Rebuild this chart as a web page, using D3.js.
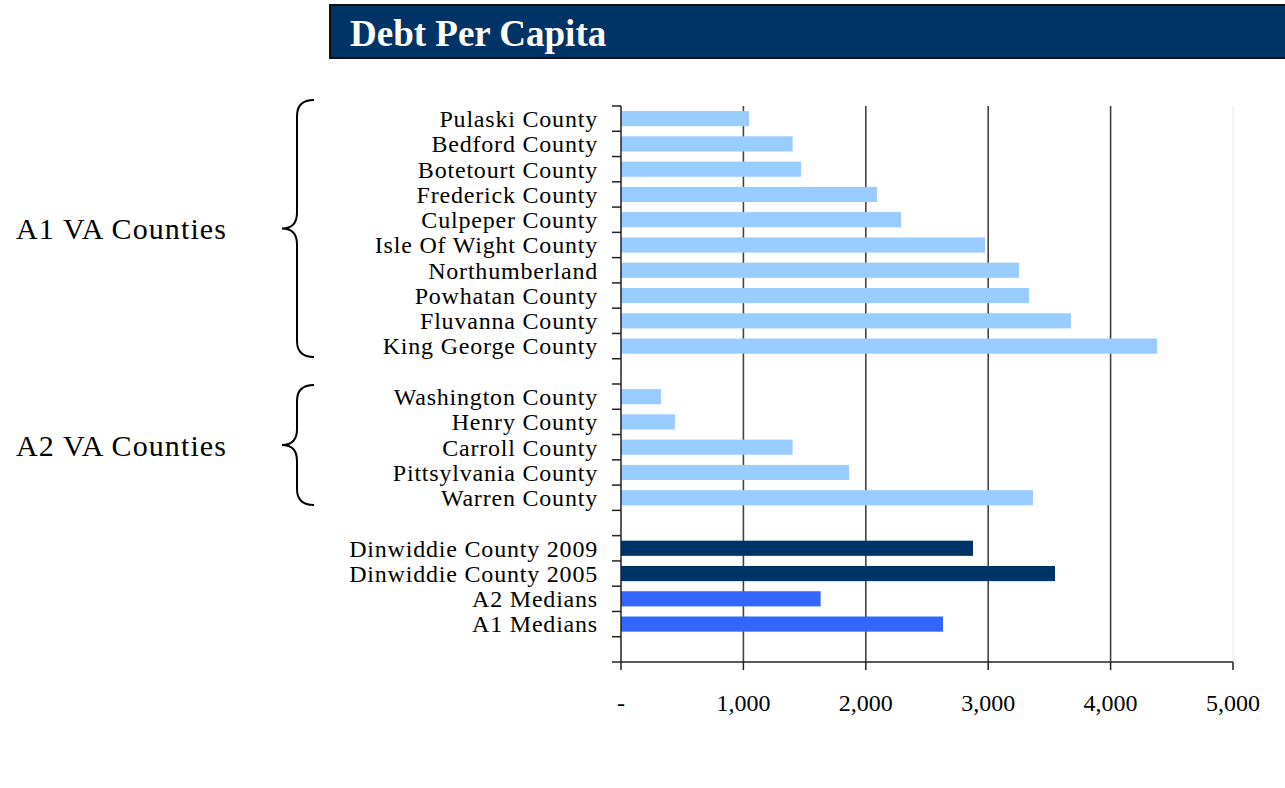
<!DOCTYPE html>
<html>
<head>
<meta charset="utf-8">
<script src="https://cdn.jsdelivr.net/npm/d3@7/dist/d3.min.js"></script>
<style>
  html, body { margin: 0; padding: 0; background: #fff; }
  svg { display: block; }
  text { font-family: "Liberation Serif", "Times New Roman", serif; }
</style>
</head>
<body>
<svg id="chart" width="1285" height="788"></svg>
<script>
// ---- data ----
const categories = [
  "Pulaski County", "Bedford County", "Botetourt County", "Frederick County",
  "Culpeper County", "Isle Of Wight County", "Northumberland", "Powhatan County",
  "Fluvanna County", "King George County", "",
  "Washington County", "Henry County", "Carroll County", "Pittsylvania County",
  "Warren County", "",
  "Dinwiddie County 2009", "Dinwiddie County 2005", "A2 Medians", "A1 Medians", ""
];
const values = [
  1046, 1402, 1471, 2092, 2288, 2974, 3252, 3333, 3676, 4380, null,
  327, 441, 1402, 1863, 3366, null,
  2876, 3546, 1631, 2631, null
];
const groups = [
  "peer","peer","peer","peer","peer","peer","peer","peer","peer","peer", null,
  "peer","peer","peer","peer","peer", null,
  "dinwiddie","dinwiddie","median","median", null
];
const xTicks = [0, 1000, 2000, 3000, 4000, 5000];
const xTickLabels = ["-", "1,000", "2,000", "3,000", "4,000", "5,000"];
const title = "Debt Per Capita";
const bracketLabels = ["A1 VA Counties", "A2 VA Counties"];

// ---- layout ----
const svg = d3.select("#chart");
const colors = { peer: "#99CCFF", dinwiddie: "#003366", median: "#3366FF" };
const plot = { left: 621, right: 1233, top: 106, bottom: 662 };
// brace extents in slot units (top, bottom)
const braceSpans = [[-0.24, 9.93], [11.04, 15.79]];

const keys = categories.map((c, i) => i);
const x = d3.scaleLinear().domain([0, 5000]).range([plot.left, plot.right]);
const y = d3.scaleBand().domain(keys).range([plot.top, plot.bottom])
  .paddingInner(0.4).paddingOuter(0.2);
const step = y.step();

// title bar
svg.append("rect").attr("x", 330).attr("y", 5).attr("width", 970).attr("height", 53)
  .attr("fill", "#003366").attr("stroke", "#111").attr("stroke-width", 2);
svg.append("text").attr("x", 350).attr("y", 46).attr("fill", "#fff")
  .attr("font-size", 37).attr("font-weight", "bold").text(title);

// gridlines
svg.append("g").selectAll("line").data(xTicks.filter(d => d > 0)).join("line")
  .attr("x1", d => x(d)).attr("x2", d => x(d))
  .attr("y1", plot.top).attr("y2", plot.bottom)
  .attr("stroke", d => d === 5000 ? "#ececec" : "#444")
  .attr("stroke-width", d => d === 5000 ? 1 : 1.6);

// bars
svg.append("g").selectAll("rect")
  .data(keys.filter(i => values[i] != null)).join("rect")
  .attr("x", x(0))
  .attr("y", i => y(i))
  .attr("width", i => x(values[i]) - x(0))
  .attr("height", y.bandwidth())
  .attr("fill", i => colors[groups[i]]);

// y axis line and ticks at slot boundaries
const ax = svg.append("g").attr("stroke", "#222").attr("stroke-width", 1.5);
ax.append("line").attr("x1", plot.left).attr("x2", plot.left)
  .attr("y1", plot.top).attr("y2", plot.bottom);
ax.selectAll("line.yt").data(d3.range(categories.length + 1)).join("line")
  .attr("class", "yt")
  .attr("x1", plot.left - 9).attr("x2", plot.left)
  .attr("y1", i => plot.top + i * step).attr("y2", i => plot.top + i * step);

// x axis line and ticks
ax.append("line").attr("x1", plot.left).attr("x2", plot.right)
  .attr("y1", plot.bottom).attr("y2", plot.bottom);
ax.selectAll("line.xt").data(xTicks).join("line")
  .attr("class", "xt")
  .attr("x1", d => x(d)).attr("x2", d => x(d))
  .attr("y1", plot.bottom).attr("y2", plot.bottom + 8);

// x tick labels
svg.append("g").selectAll("text").data(xTicks).join("text")
  .attr("x", d => x(d)).attr("y", 711)
  .attr("text-anchor", "middle").attr("font-size", 24).attr("fill", "#000")
  .text((d, i) => xTickLabels[i]);

// category labels
svg.append("g").selectAll("text").data(keys.filter(i => categories[i])).join("text")
  .attr("x", 598).attr("y", i => y(i) + y.bandwidth() / 2)
  .attr("dy", "0.35em")
  .attr("text-anchor", "end").attr("font-size", 24)
  .attr("letter-spacing", 0.8).attr("fill", "#000")
  .text(i => categories[i]);

// brackets
function bracePath(y0, y1, xTip, xLine, xEnd) {
  const ym = (y0 + y1) / 2;
  const r = 16;
  return `M${xEnd},${y0} Q${xLine},${y0} ${xLine},${y0 + r}` +
         ` L${xLine},${ym - r} Q${xLine},${ym} ${xTip},${ym}` +
         ` Q${xLine},${ym} ${xLine},${ym + r}` +
         ` L${xLine},${y1 - r} Q${xLine},${y1} ${xEnd},${y1}`;
}
braceSpans.forEach((s, k) => {
  const y0 = plot.top + s[0] * step;
  const y1 = plot.top + s[1] * step;
  svg.append("path").attr("d", bracePath(y0, y1, 282, 297, 314))
    .attr("fill", "none").attr("stroke", "#000").attr("stroke-width", 2);
  svg.append("text").attr("x", 16).attr("y", (y0 + y1) / 2)
    .attr("dy", "0.35em").attr("font-size", 30).attr("letter-spacing", 1.1)
    .attr("fill", "#000")
    .text(bracketLabels[k]);
});
</script>
</body>
</html>
